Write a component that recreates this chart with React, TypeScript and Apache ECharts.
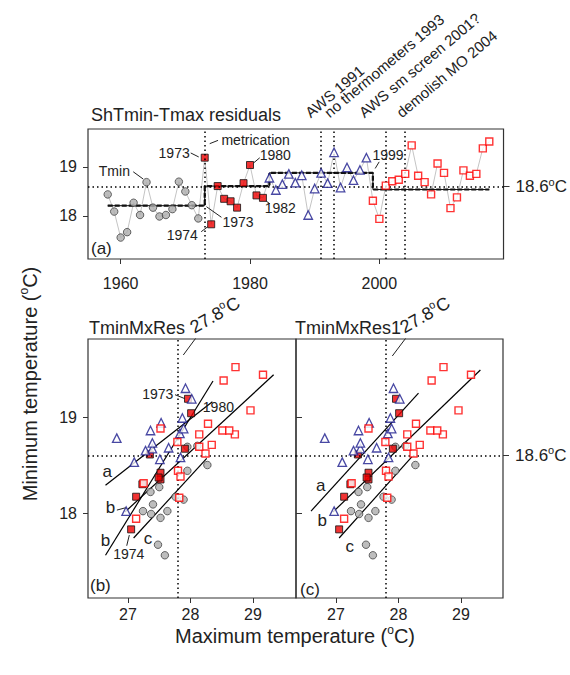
import React, { useEffect, useRef } from 'react';
import * as echarts from 'echarts';

const FONT = '"Liberation Sans", Arial, Helvetica, sans-serif';
const INK = '#222';

// ---------- data ----------
const years = [
  1958, 1959, 1960, 1961, 1962, 1963, 1964, 1965, 1966, 1967, 1968, 1969, 1970, 1971, 1972,
  1973, 1974, 1975, 1976, 1977, 1978, 1979, 1980, 1981, 1982,
  1983, 1984, 1985, 1986, 1987, 1988, 1989, 1990, 1991, 1992, 1993, 1994, 1995, 1996, 1997, 1998,
  1999, 2000, 2001, 2002, 2003, 2004, 2005, 2006, 2007, 2008, 2009, 2010, 2011, 2012, 2013, 2014,
  2015, 2016, 2017,
];
const tmin = [
  18.44, 18.09, 17.56, 17.67, 18.27, 18.02, 18.69, 18.17, 17.99, 18.02, 18.14, 18.7, 18.5, 18.22, 17.95,
  19.19, 17.83, 18.61, 18.35, 18.3, 18.17, 18.67, 19.04, 18.42, 18.37,
  18.78, 18.53, 18.65, 18.86, 18.68, 18.83, 18.02, 18.56, 18.88, 18.67, 19.3, 18.58, 18.99, 18.73, 18.94, 19.19,
  18.31, 17.94, 18.62, 18.71, 18.74, 18.86, 19.44, 18.82, 18.69, 18.44, 19.07, 18.88, 18.16, 18.38, 18.93, 18.82,
  18.86, 19.38, 19.52,
];
const tmax = [
  27.95, 27.4, 27.59, 27.48, 27.5, 27.24, 27.95, 27.76, 27.37, 27.63, 27.89, 28.11, 28.27, 27.36, 27.52,
  27.96, 27.05, 27.35, 27.52, 27.23, 27.13, 27.91, 28.01, 27.52, 27.49,
  26.82, 27.1, 27.28, 27.36, 27.65, 27.83, 26.97, 27.51, 27.89, 27.39, 27.92, 27.84, 27.87, 27.39, 27.53, 28.02,
  27.25, 27.13, 28.24, 28.34, 27.79, 28.51, 29.16, 28.14, 28.14, 27.8, 28.96, 27.52, 27.82, 27.84, 28.28, 28.71,
  28.62, 28.53, 28.72,
];
// station periods (grey circles, red filled squares, blue triangles, red open squares)
const periodStart = [1958, 1973, 1983, 1999];
const periodEnd = [1972, 1982, 1998, 2017];
// step means
const stepYears = [1958, 1973, 1983, 1999, 2017];
const stepLevels = [18.21, 18.61, 18.88, 18.54];
// events
const eventYears = [1973, 1991, 1993, 2001, 2004];
const eventLabels = ['', 'AWS 1991', 'no thermometers 1993', 'AWS sm screen 2001?', 'demolish MO 2004'];
const refTmin = 18.6;
const refTmax = 27.8;
// fitted lines (endpoints in data units)
const fitsB = [
  [[26.64, 18.29], [28.35, 19.16]],
  [[26.95, 18.01], [29.33, 19.44]],
  [[26.64, 17.56], [28.36, 19.375]],
  [[27.09, 17.74], [28.26, 18.57]],
];
const fitsC = [
  [[26.6, 18.02], [28.32, 19.25]],
  [[26.95, 18.01], [29.31, 19.49]],
  [[27.05, 17.74], [28.22, 18.59]],
];
const yearTicks = [1960, 1980, 2000];
const tempTicks = [18, 19];
const tmaxTicks = [27, 28, 29];

// ---------- styles ----------
const symbolDefs = [
  { symbol: 'circle', size: 7.5, itemStyle: { color: '#adadad', borderColor: '#333', borderWidth: 0.9 } },
  { symbol: 'rect', size: 7, itemStyle: { color: '#ee0000', borderColor: '#111', borderWidth: 1 } },
  { symbol: 'triangle', size: 8.5, itemStyle: { color: '#fff', borderColor: '#1a1a8c', borderWidth: 1.3 } },
  { symbol: 'rect', size: 7, itemStyle: { color: '#fff', borderColor: '#ff0000', borderWidth: 1.4 } },
];

const dotted = { type: [1.5, 3] as any, color: '#000', width: 1.5 };

const supRich = (size: number) => ({
  n: { fontSize: size, fontFamily: FONT, color: INK, lineHeight: size + 4 },
  s: { fontSize: Math.round(size * 0.62), fontFamily: FONT, color: INK, lineHeight: Math.round(size * 0.62) + 1, verticalAlign: 'top' },
});

function groupPoints(k: number, xs: number[]) {
  const out: number[][] = [];
  years.forEach((y, i) => {
    if (y >= periodStart[k] && y <= periodEnd[k]) out.push([xs[i], tmin[i]]);
  });
  return out;
}

function buildOption() {
  const series: any[] = [];
  // panel (a)
  series.push({
    type: 'line', xAxisIndex: 0, yAxisIndex: 0, symbol: 'none', silent: true, z: 1,
    data: years.map((y, i) => [y, tmin[i]]),
    lineStyle: { color: '#c4c4c4', width: 1 },
    markLine: {
      silent: true, symbol: 'none', label: { show: false }, lineStyle: dotted,
      data: [...eventYears.map((y) => ({ xAxis: y })), { yAxis: refTmin }],
    },
  });
  const stepData: number[][] = [];
  stepLevels.forEach((lv, i) => {
    stepData.push([stepYears[i], lv]);
    stepData.push([stepYears[i + 1], lv]);
  });
  series.push({
    type: 'line', xAxisIndex: 0, yAxisIndex: 0, symbol: 'none', silent: true, z: 2,
    data: stepData, lineStyle: { color: '#111', width: 1 },
  });
  series.push({
    type: 'line', xAxisIndex: 0, yAxisIndex: 0, symbol: 'none', silent: true, z: 2,
    data: stepData, lineStyle: { color: '#111', width: 2.2, type: [5, 2] },
  });
  symbolDefs.forEach((d, k) => {
    series.push({
      type: 'scatter', xAxisIndex: 0, yAxisIndex: 0, z: 3 + k,
      symbol: d.symbol, symbolSize: d.size, itemStyle: d.itemStyle,
      data: groupPoints(k, years),
    });
  });
  // panels (b), (c)
  const panels = [
    { xi: 1, yi: 2, fits: fitsB },
    { xi: 2, yi: 3, fits: fitsC },
  ];
  panels.forEach((p) => {
    series.push({
      type: 'line', xAxisIndex: p.xi, yAxisIndex: p.yi, data: [], silent: true,
      markLine: {
        silent: true, symbol: 'none', label: { show: false }, lineStyle: dotted,
        data: [{ xAxis: refTmax }, { yAxis: refTmin }],
      },
    });
    p.fits.forEach((f) => {
      series.push({
        type: 'line', xAxisIndex: p.xi, yAxisIndex: p.yi, symbol: 'none', silent: true, z: 2,
        data: f, lineStyle: { color: '#000', width: 1.2 },
      });
    });
    symbolDefs.forEach((d, k) => {
      series.push({
        type: 'scatter', xAxisIndex: p.xi, yAxisIndex: p.yi, z: 3 + k,
        symbol: d.symbol, symbolSize: d.size, itemStyle: d.itemStyle,
        data: groupPoints(k, tmax),
      });
    });
  });

  const tickLabel = { fontSize: 16, fontFamily: FONT, color: INK, formatter: (v: number) => String(v) };
  const tick = { show: true, length: 5, lineStyle: { color: '#333', width: 1 } };
  const grids = [
    { left: 88, top: 129, width: 416, height: 130 },
    { left: 88, top: 339, width: 208, height: 259 },
    { left: 296, top: 339, width: 207, height: 259 },
  ].map((g) => ({ ...g, show: true, borderColor: '#333', borderWidth: 1.2, backgroundColor: 'transparent' }));

  const yMinA = 17.122, yMaxA = 19.775;
  const yMinB = 17.115, yMaxB = 19.813;
  const rightLabel = (gi: number, mn: number, mx: number) => ({
    type: 'value', gridIndex: gi, position: 'right', min: mn, max: mx,
    axisLine: { show: false }, splitLine: { show: false },
    axisTick: { ...tick, length: 6, customValues: [refTmin] },
    axisLabel: {
      customValues: [refTmin], margin: 12,
      formatter: (v: number) => `{n|${v}}{s|o}{n|C}`,
      rich: supRich(17),
    },
  });

  return {
    animation: false,
    backgroundColor: '#fff',
    textStyle: { fontFamily: FONT },
    grid: grids,
    xAxis: [
      {
        type: 'value', gridIndex: 0, min: 1954.95, max: 2019.2,
        axisLine: { show: false }, splitLine: { show: false },
        axisTick: { ...tick, customValues: yearTicks },
        axisLabel: { ...tickLabel, customValues: yearTicks, margin: 16 },
      },
      {
        type: 'value', gridIndex: 1, min: 26.36, max: 29.688,
        axisLine: { show: false }, splitLine: { show: false },
        axisTick: { ...tick, customValues: tmaxTicks },
        axisLabel: { ...tickLabel, customValues: tmaxTicks, margin: 8 },
      },
      {
        type: 'value', gridIndex: 2, min: 26.36, max: 29.672,
        axisLine: { show: false }, splitLine: { show: false },
        axisTick: { ...tick, customValues: tmaxTicks },
        axisLabel: { ...tickLabel, customValues: tmaxTicks, margin: 8 },
      },
    ],
    yAxis: [
      {
        type: 'value', gridIndex: 0, min: yMinA, max: yMaxA,
        axisLine: { show: false }, splitLine: { show: false },
        axisTick: { ...tick, customValues: tempTicks },
        axisLabel: { ...tickLabel, customValues: tempTicks, margin: 11 },
      },
      rightLabel(0, yMinA, yMaxA),
      {
        type: 'value', gridIndex: 1, min: yMinB, max: yMaxB,
        axisLine: { show: false }, splitLine: { show: false },
        axisTick: { ...tick, customValues: tempTicks },
        axisLabel: { ...tickLabel, customValues: tempTicks, margin: 11 },
      },
      {
        type: 'value', gridIndex: 2, min: yMinB, max: yMaxB,
        axisLine: { show: false }, splitLine: { show: false },
        axisTick: { ...tick, inside: true, length: 6, customValues: tempTicks },
        axisLabel: { show: false },
      },
      rightLabel(2, yMinB, yMaxB),
    ],
    series,
  };
}

function text(x: number, y: number, s: string, o: any = {}) {
  const align = o.align || 'left';
  const va = o.va || 'middle';
  return {
    type: 'text', x, y, rotation: ((o.rot || 0) * Math.PI) / 180, silent: true, z: 50,
    style: {
      text: s, fontSize: o.size || 14, fontFamily: FONT, fill: INK,
      align, verticalAlign: va, textAlign: align, textVerticalAlign: va,
      rich: o.rich,
    },
  };
}
function seg(x1: number, y1: number, x2: number, y2: number) {
  return { type: 'line', silent: true, z: 50, shape: { x1, y1, x2, y2 }, style: { stroke: '#222', lineWidth: 1 } };
}

// pixel nudges of the rotated event labels relative to the top of their dotted line
const eventLabelDx = [0, -9, -3, -20, -2];

export default function App() {
  const ref = useRef<HTMLDivElement>(null);
  useEffect(() => {
    document.body.style.margin = '0';
    const chart = echarts.init(ref.current!, null, { renderer: 'svg' });
    chart.setOption(buildOption() as any);

    const pa = (x: number, y: number) => chart.convertToPixel({ xAxisIndex: 0, yAxisIndex: 0 } as any, [x, y]) as number[];
    const pb = (x: number, y: number) => chart.convertToPixel({ xAxisIndex: 1, yAxisIndex: 2 } as any, [x, y]) as number[];
    const pc = (x: number, y: number) => chart.convertToPixel({ xAxisIndex: 2, yAxisIndex: 3 } as any, [x, y]) as number[];
    const tv = (yr: number) => tmin[years.indexOf(yr)];
    const tx = (yr: number) => tmax[years.indexOf(yr)];
    const g: any[] = [];
    const note = (p: number[], s: string, off: number[], o: any, l?: number[]) => {
      g.push(text(p[0] + off[0], p[1] + off[1], s, o));
      if (l) g.push(seg(p[0] + l[0], p[1] + l[1], p[0] + l[2], p[1] + l[3]));
    };

    // titles
    g.push(text(91, 115, 'ShTmin-Tmax residuals', { size: 18 }));
    g.push(text(89, 328, 'TminMxRes', { size: 18 }));
    g.push(text(295, 328, 'TminMxRes1', { size: 18 }));
    g.push(text(30, 384, '{n|Minimum temperature (}{s|o}{n|C)}', { size: 20, align: 'center', rot: 90, rich: supRich(20) }));
    g.push(text(295, 636, '{n|Maximum temperature (}{s|o}{n|C)}', { size: 20, align: 'center', rich: supRich(20) }));

    // panel (a) annotations
    const top = 19.775;
    eventYears.forEach((yr, i) => {
      if (!eventLabels[i]) return;
      const p = pa(yr, top);
      g.push(text(p[0] + eventLabelDx[i], p[1] - 9, eventLabels[i], { size: 15, rot: 40, va: 'bottom' }));
    });
    note(pa(1964, tv(1964)), 'Tmin', [-16.6, -11], { align: 'right' }, [-13.3, -10.4, -3.3, -3.1]);
    note(pa(1973, tv(1973)), '1973', [-15, -5], { align: 'right' }, [-14, -4.7, -6, -0.7]);
    note(pa(1973, tv(1973)), 'metrication', [16.7, -18], {}, [5, -14, 13.3, -17.3]);
    note(pa(1980, tv(1980)), '1980', [9.7, -9.8], {}, [3.7, -2.2, 9.7, -7.2]);
    note(pa(1982, tv(1982)), '1982', [1.7, 10.6], {}, [3, 3, 7, 6]);
    note(pa(1973, stepLevels[0]), '1973', [17.7, 16], {}, [1.7, 1, 16.7, 11.6]);
    note(pa(1974, tv(1974)), '1974', [-13.4, 10.7], { align: 'right' }, [-10, 7.4, -3.4, 2.4]);
    note(pa(1999, stepLevels[2]), '1999', [-0.4, -17.7], {}, [2.3, -4.4, 6.3, -11]);
    g.push(text(91, 248, '(a)', { size: 17 }));

    // panel (b)
    note(pb(tx(1973), tv(1973)), '1973', [-14.7, -5.1], { align: 'right' }, [-13, -4.1, -3, -0.1]);
    note(pb(tx(1980), tv(1980)), '1980', [11.7, -6.2], {});
    note(pb(tx(1974), tv(1974)), '1974', [-2.3, 24.7], { align: 'center' }, [-4.4, 16.4, -1.8, 5.7]);
    note(pb(fitsB[0][0][0], fitsB[0][0][1]), 'a', [1.7, -13.5], { size: 17, align: 'center' });
    note(pb(fitsB[1][0][0], fitsB[1][0][1]), 'b', [-14.4, -4.3], { size: 17, align: 'center' }, [-8, -2, 0.6, -4.3]);
    note(pb(fitsB[2][0][0], fitsB[2][0][1]), 'b', [0, -15], { size: 17, align: 'center' });
    note(pb(fitsB[3][0][0], fitsB[3][0][1]), 'c', [14.4, 0], { size: 17, align: 'center' });
    note(pb(refTmax, 19.813), '{n|27.8}{s|o}{n|C}', [19, -1], { size: 18, rot: 30, va: 'bottom', rich: supRich(18) }, [5.3, 16, 17.5, -0.5]);
    g.push(text(90, 585, '(b)', { size: 17 }));

    // panel (c)
    note(pc(fitsC[0][0][0], fitsC[0][0][1]), 'a', [9.7, -25.5], { size: 17, align: 'center' });
    note(pc(fitsC[1][0][0], fitsC[1][0][1]), 'b', [-10.7, 8], { size: 17, align: 'center' });
    note(pc(fitsC[2][0][0], fitsC[2][0][1]), 'c', [10.6, 8.7], { size: 17, align: 'center' });
    note(pc(refTmax, 19.813), '{n|27.8}{s|o}{n|C}', [21, -1], { size: 18, rot: 30, va: 'bottom', rich: supRich(18) }, [6.3, 17, 19.5, -0.5]);
    g.push(text(300, 589, '(c)', { size: 17 }));

    chart.setOption({ graphic: { elements: g } } as any);
    return () => chart.dispose();
  }, []);
  return <div ref={ref} style={{ position: 'absolute', left: 0, top: 0, width: 570, height: 675 }} />;
}
